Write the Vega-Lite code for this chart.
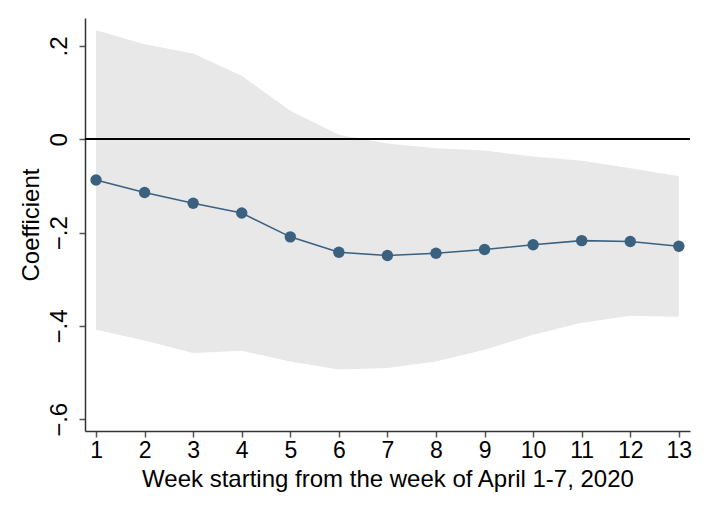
{
  "$schema": "https://vega.github.io/schema/vega-lite/v6.json",
  "autosize": "none",
  "padding": {"left": 85, "top": 18, "right": 19, "bottom": 85},
  "width": 605,
  "height": 413,
  "background": "white",
  "data": {
    "values": [
      {"week": 1, "coef": -0.087, "lo": -0.408, "hi": 0.234},
      {"week": 2, "coef": -0.114, "lo": -0.431, "hi": 0.204},
      {"week": 3, "coef": -0.137, "lo": -0.458, "hi": 0.184},
      {"week": 4, "coef": -0.158, "lo": -0.453, "hi": 0.136},
      {"week": 5, "coef": -0.209, "lo": -0.476, "hi": 0.061},
      {"week": 6, "coef": -0.242, "lo": -0.493, "hi": 0.010},
      {"week": 7, "coef": -0.249, "lo": -0.490, "hi": -0.009},
      {"week": 8, "coef": -0.244, "lo": -0.476, "hi": -0.019},
      {"week": 9, "coef": -0.236, "lo": -0.451, "hi": -0.024},
      {"week": 10, "coef": -0.226, "lo": -0.419, "hi": -0.037},
      {"week": 11, "coef": -0.217, "lo": -0.393, "hi": -0.046},
      {"week": 12, "coef": -0.219, "lo": -0.378, "hi": -0.062},
      {"week": 13, "coef": -0.229, "lo": -0.380, "hi": -0.079}
    ]
  },
  "layer": [
    {
      "mark": {"type": "area", "color": "#e8e8e8", "opacity": 1},
      "encoding": {
        "x": {
          "field": "week",
          "type": "quantitative",
          "scale": {"domain": [0.773, 13.23], "nice": false, "zero": false},
          "axis": {
            "values": [1, 2, 3, 4, 5, 6, 7, 8, 9, 10, 11, 12, 13],
            "title": "Week starting from the week of April 1-7, 2020",
            "titlePadding": 5,
            "labelPadding": 2,
            "tickSize": 6,
            "labelFont": "Liberation Sans",
            "titleFont": "Liberation Sans",
            "labelFontSize": 23,
            "titleFontSize": 24,
            "labelColor": "black",
            "titleColor": "black",
            "titleFontWeight": "normal"
          }
        },
        "y": {
          "field": "lo",
          "type": "quantitative",
          "scale": {"domain": [-0.625, 0.26], "nice": false, "zero": false},
          "axis": {
            "values": [0.2, 0, -0.2, -0.4, -0.6],
            "labelExpr": "datum.value == 0 ? '0' : replace(format(datum.value, '.1f'), '0.', '.')",
            "labelAngle": -90,
            "labelAlign": "center",
            "labelBaseline": "bottom",
            "labelPadding": 8,
            "tickSize": 6,
            "title": "Coefficient",
            "titlePadding": 4,
            "labelFont": "Liberation Sans",
            "titleFont": "Liberation Sans",
            "labelFontSize": 24,
            "titleFontSize": 24,
            "labelColor": "black",
            "titleColor": "black",
            "titleFontWeight": "normal"
          }
        },
        "y2": {"field": "hi"}
      }
    },
    {
      "mark": {"type": "rule", "color": "black", "strokeWidth": 1.5},
      "encoding": {"y": {"datum": 0}}
    },
    {
      "mark": {"type": "line", "color": "#3b6180", "strokeWidth": 1.6},
      "encoding": {
        "x": {"field": "week", "type": "quantitative"},
        "y": {"field": "coef", "type": "quantitative"}
      }
    },
    {
      "mark": {"type": "point", "filled": true, "color": "#3b6180", "opacity": 1, "size": 130},
      "encoding": {
        "x": {"field": "week", "type": "quantitative"},
        "y": {"field": "coef", "type": "quantitative"}
      }
    }
  ],
  "config": {
    "view": {"stroke": null},
    "font": "Liberation Sans",
    "axis": {
      "grid": false,
      "domainColor": "#333333",
      "domainWidth": 1.5,
      "tickColor": "#555555",
      "tickWidth": 1.5
    }
  }
}
